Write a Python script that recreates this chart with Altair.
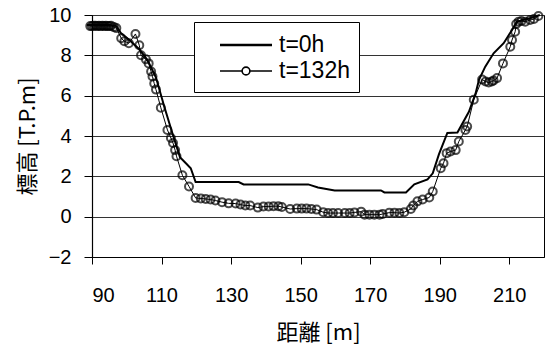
import altair as alt
import pandas as pd

# Cross-section profile at t = 0 h (distance [m], elevation [T.P.m])
dist_0h = [88.5, 91, 95, 97, 98.3, 100.5, 103.6, 106, 108.4, 110.8, 113.1, 115.3,
           117, 118.4, 119.8, 132.2, 133.6, 152.2, 155, 159.8, 173.1, 174.1, 180.3,
           182.7, 186.5, 188, 189.8, 192.2, 195.1, 198.4, 200.3, 201.3, 203.1, 205.5,
           208.4, 210.8, 212.2, 216, 218.8]
elev_0h = [9.5, 9.5, 9.5, 9.45, 9.1, 8.8, 8.3, 7.75, 6.9, 5.45, 4.15, 2.95,
           2.65, 2.4, 1.72, 1.72, 1.6, 1.6, 1.45, 1.3, 1.3, 1.2, 1.2,
           1.6, 1.85, 2.15, 3.1, 4.15, 4.17, 5.2, 6.1, 6.78, 7.44, 8.1,
           8.6, 9.26, 9.67, 9.84, 10.0]

# Measured profile at t = 132 h
dist_132h = [89.5, 90, 90.5, 91, 91.5, 92, 92.5, 93, 93.5, 94, 94.5, 95, 95.5, 96.3, 97,
             98.4, 99.3, 100.6, 102.5, 103.6, 104.1, 105.5, 106.3, 107, 107.4, 107.9,
             108.4, 109.8, 111.7, 112.7, 113.3, 113.9, 114.3, 116, 117.9, 119.8, 121.3,
             122.7, 124.1, 125.5, 127.4, 129.3, 131.3, 132.7, 134.1, 135.5, 137.7, 139.3,
             140.8, 142.2, 143.6, 144.6, 147, 148.9, 150.3, 151.7, 153.1, 154.6, 156.5,
             157.9, 159.3, 160.8, 162.7, 164.1, 165.5, 167.4, 168.4, 169.8, 171.2, 172.7,
             173.6, 175.5, 177, 178.4, 179.8, 181.7, 182.4, 183.6, 185.1, 187, 188, 190.3,
             191.1, 192, 193.1, 194.6, 195.5, 197.4, 197.9, 199.8, 202.2, 203.2, 204.1,
             205, 205.5, 206.5, 208.2, 210.3, 210.8, 211.7, 212, 212.7, 213.5, 214.6,
             216, 217.1, 218.4]
elev_132h = [9.45, 9.45, 9.47, 9.47, 9.45, 9.47, 9.45, 9.47, 9.45, 9.47, 9.45, 9.45, 9.47, 9.4, 9.35,
             8.85, 8.7, 8.6, 9.06, 8.5, 8.0, 7.8, 7.6, 7.2, 6.95, 6.6,
             6.3, 5.4, 4.3, 3.9, 3.65, 3.3, 3.0, 2.05, 1.5, 0.93, 0.9,
             0.88, 0.85, 0.8, 0.72, 0.66, 0.65, 0.6, 0.55, 0.55, 0.45, 0.5,
             0.5, 0.52, 0.52, 0.48, 0.38, 0.4, 0.4, 0.4, 0.38, 0.35, 0.22,
             0.18, 0.18, 0.18, 0.18, 0.18, 0.21, 0.25, 0.1, 0.1, 0.1, 0.1,
             0.13, 0.2, 0.2, 0.18, 0.22, 0.38, 0.55, 0.76, 0.85, 0.95, 1.25, 2.4,
             2.65, 3.15, 3.23, 3.3, 3.73, 4.3, 4.47, 5.8, 6.8, 6.7, 6.65,
             6.7, 6.75, 6.87, 7.6, 8.43, 8.76, 9.17, 9.55, 9.67, 9.7, 9.67,
             9.75, 9.8, 9.95]

series_names = ["t=0h", "t=132h"]
x_ticks = [90, 110, 130, 150, 170, 190, 210]
y_ticks = [-2, 0, 2, 4, 6, 8, 10]

df0 = pd.DataFrame({"dist": dist_0h, "elev": elev_0h})
df132 = pd.DataFrame({"dist": dist_132h, "elev": elev_132h})
df_key = pd.DataFrame({"series": series_names})

x_enc = alt.X("dist:Q",
              scale=alt.Scale(domain=[90, 220], nice=False, zero=False),
              axis=alt.Axis(values=x_ticks, title="距離 [m]", grid=False,
                            tickSize=7, labelPadding=21, titlePadding=17,
                            labelFontSize=20, labelFont="Liberation Sans",
                            titleFontSize=22, titleFont="Noto Sans CJK JP",
                            titleFontWeight="normal"))
y_enc = alt.Y("elev:Q",
              scale=alt.Scale(domain=[-2, 10], nice=False, zero=False),
              axis=alt.Axis(values=y_ticks, title="標高 [T.P.m]", grid=True,
                            tickSize=8, labelPadding=13, titlePadding=9,
                            labelFontSize=20, labelFont="Liberation Sans",
                            titleFontSize=22, titleFont="Noto Sans CJK JP",
                            titleFontWeight="normal"))

line0 = alt.Chart(df0).mark_line(color="black", strokeWidth=2).encode(x=x_enc, y=y_enc)
line132 = alt.Chart(df132).mark_line(color="black", strokeWidth=1).encode(x="dist:Q", y="elev:Q")
pts132 = alt.Chart(df132).mark_point(shape="circle", filled=False, size=64,
                                     strokeWidth=2, color="black").encode(x="dist:Q", y="elev:Q")

# Legend symbols: a thick line, and a thin line with a circle marker
sym_line = "M-1,-0.04H3M-1,0.04H3"
sym_marker = ("M-1,0H0.7M1.3,0H3"
              "M1.3,0A0.3,0.3,0,1,1,0.7,0A0.3,0.3,0,1,1,1.3,0")
key = alt.Chart(df_key).mark_point(opacity=0, filled=False, color="black").encode(
    shape=alt.Shape("series:N",
                    scale=alt.Scale(domain=series_names, range=[sym_line, sym_marker]),
                    legend=alt.Legend(orient="none", legendX=102, legendY=7,
                                      title=" ", titleOrient="left", titlePadding=16,
                                      titleFontSize=8,
                                      labelFontSize=23, labelFont="Liberation Sans",
                                      labelColor="black", padding=9,
                                      labelExpr="datum.label + '\u2003\u2003\u2002\u2009'",
                                      strokeColor="black", fillColor="white",
                                      symbolSize=676, symbolStrokeWidth=1.6,
                                      symbolStrokeColor="black", symbolOpacity=1,
                                      symbolFillColor="transparent",
                                      labelOffset=32, rowPadding=0))
)

chart = alt.layer(line0, line132, pts132, key).properties(
    width=452, height=242,
    autosize=alt.AutoSizeParams(type="none"),
    padding={"left": 92, "top": 15, "right": 10, "bottom": 90},
).configure_view(stroke="black", strokeWidth=1).configure_axis(
    domainColor="black", tickColor="black", gridColor="#333333",
    labelColor="black", titleColor="black", gridWidth=1, domainWidth=1.2
)

chart.save("out.html", embed_options={"renderer": "svg", "actions": False})
